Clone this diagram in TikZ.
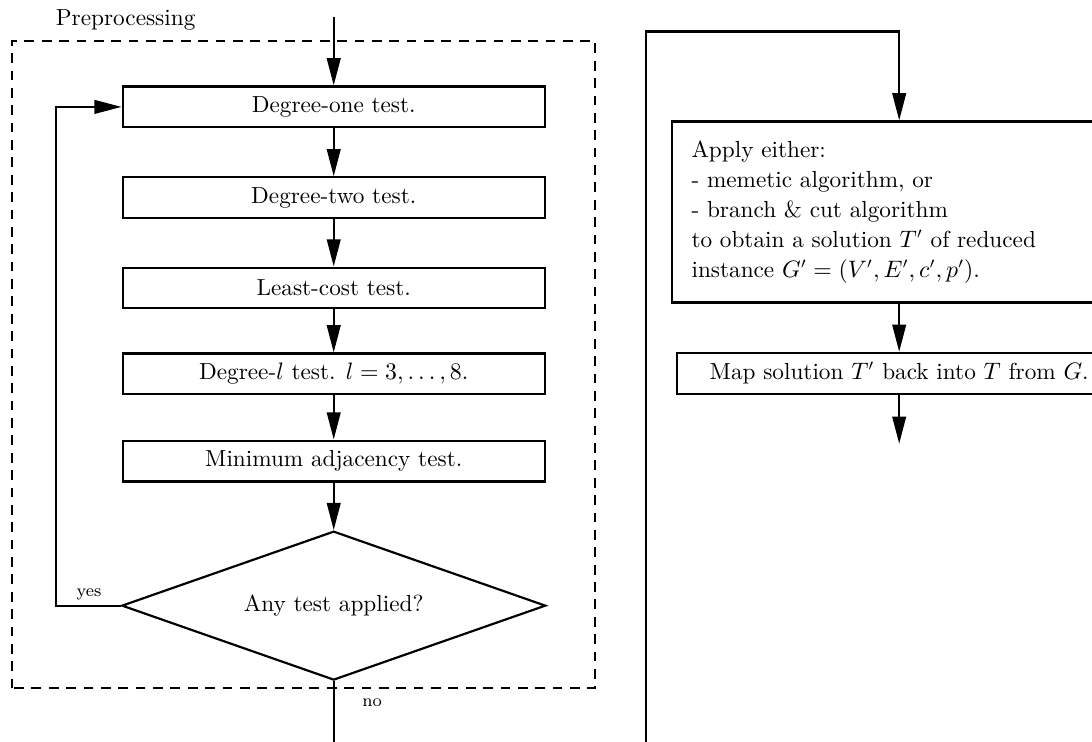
\documentclass[tikz,border=0pt]{standalone}
\usetikzlibrary{arrows.meta,shapes.geometric}
\begin{document}
\begin{tikzpicture}[
    font=\fontsize{10.7}{13.8}\selectfont,
    testbox/.style={draw, line width=1pt, minimum width=6.83cm, minimum height=0.66cm, inner sep=0pt},
    flow/.style={line width=1pt, -{Triangle[length=0.44cm, width=0.22cm]}},
    plain/.style={line width=1pt},
    small/.style={font=\fontsize{8}{10}\selectfont}
  ]
    \useasboundingbox (0,0) rectangle (17.67,12.0);
    \clip (0,0) rectangle (17.67,12.0);
    % Preprocessing frame
    \draw[line width=0.9pt, dash pattern=on 4.5pt off 3.5pt] (0.19,0.86) rectangle (9.63,11.34);
    \node[anchor=west] (pre) at (0.78,11.68) {Preprocessing};
    % Tests
    \node[testbox] (deg1) at (5.40,10.27) {Degree-one test.};
    \node[testbox] (deg2) at (5.40,8.80) {Degree-two test.};
    \node[testbox] (least) at (5.40,7.34) {Least-cost test.};
    \node[testbox] (degl) at (5.40,5.95) {Degree-$l$ test. $l=3,\ldots,8$.};
    \node[testbox] (minadj) at (5.40,4.54) {Minimum adjacency test.};
    \node[draw, line width=1pt, diamond, aspect=2.85, minimum width=6.86cm, minimum height=2.41cm, inner sep=0pt] (any) at (5.40,2.20) {Any test applied?};
    \coordinate (in) at (5.40,11.72);
    \coordinate (out) at (5.40,0);
    \draw[flow] (in) -- (deg1);
    \draw[flow] (deg1) -- (deg2);
    \draw[flow] (deg2) -- (least);
    \draw[flow] (least) -- (degl);
    \draw[flow] (degl) -- (minadj);
    \draw[flow] (minadj) -- (any);
    \draw[flow] (any.west) -- ++(-1.05,0) |- (deg1.west);
    \draw[plain] (any.south) -- (out);
    \node[small] (yes) at (1.44,2.38) {yes};
    \node[small] (no) at (6.02,0.63) {no};
    % Solver and back mapping
    \coordinate (rin) at (10.45,0);
    \coordinate (rtop) at (14.55,11.49);
    \node[draw, line width=1pt, minimum height=2.93cm, text width=6.72cm, align=left, inner xsep=0.32cm] (apply) at (14.55,8.57)
        {Apply either:\\- memetic algorithm, or\\- branch \& cut algorithm\\to obtain a solution $T'$ of reduced\\instance $G'=(V',E',c',p')$.};
    \node[testbox, minimum width=7.2cm] (map) at (14.55,5.96) {Map solution $T'$ back into $T$ from $G$.};
    \coordinate (end) at (14.55,4.82);
    \draw[flow] (rin) |- (rtop) -- (apply);
    \draw[flow] (apply) -- (map);
    \draw[flow] (map) -- (end);
\end{tikzpicture}
\end{document}
